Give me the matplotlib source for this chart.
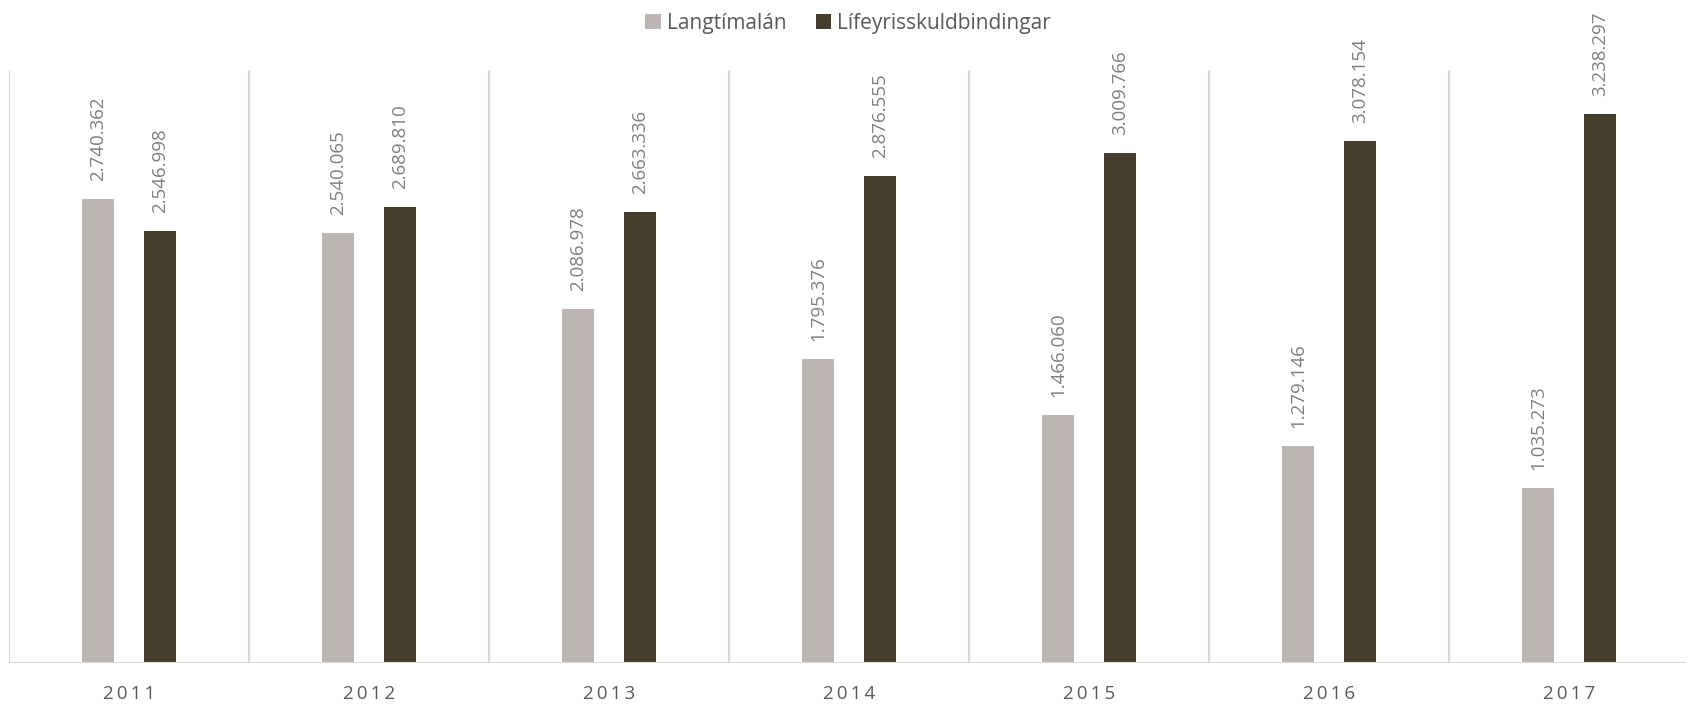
import numpy as np
import matplotlib.pyplot as plt

# ------------------------------
# DATA
# ------------------------------
years = ["2011", "2012", "2013", "2014", "2015", "2016", "2017"]
langtimalan = [2740362, 2540065, 2086978, 1795376, 1466060, 1279146, 1035273]
lifeyris = [2546998, 2689810, 2663336, 2876555, 3009766, 3078154, 3238297]

LIGHT = "#BDB4B4"
DARK = "#453D2B"
GRID = "#D9D9D9"
TEXT = "#595959"
LABEL = "#7F7F7F"

plt.rcParams['font.family'] = ['Open Sans', 'DejaVu Sans']


def fmt(v):
    # Icelandic thousands separator
    return f"{v:,}".replace(",", ".")


fig = plt.figure(figsize=(16.86, 7.05), dpi=100)
ax = fig.add_axes([9 / 1686, 42 / 705, 1680 / 1686, 593 / 705])

x = np.arange(len(years))
w = 0.133
off = 0.129

b1 = ax.bar(x - off, langtimalan, w, color=LIGHT, label="Langtímalán", zorder=3)
b2 = ax.bar(x + off, lifeyris, w, color=DARK, label="Lífeyrisskuldbindingar", zorder=3)

# value labels, rotated
for bars, vals in ((b1, langtimalan), (b2, lifeyris)):
    for rect, v in zip(bars, vals):
        ax.annotate(fmt(v), (rect.get_x() + rect.get_width() / 2, v),
                    xytext=(0, 13), textcoords="offset points",
                    rotation=90, ha="center", va="bottom",
                    fontsize=13.5, color=LABEL, annotation_clip=False)

ax.set_xlim(-0.5, len(years) - 0.5)
ax.set_ylim(0, 3500000)

# category separators
for b in np.arange(-0.5, len(years), 1.0):
    ax.axvline(b, color=GRID, lw=1.5, zorder=1)

for s in ax.spines.values():
    s.set_visible(False)
ax.axhline(0, color=GRID, lw=1.5, zorder=4)

ax.set_yticks([])
ax.set_xticks(x)
ax.set_xticklabels(["\u2009".join(y) for y in years], fontsize=13.5, color=TEXT)
ax.tick_params(axis="x", length=0, pad=16)

fig.legend(handles=[b1, b2], loc="upper center", bbox_to_anchor=(0.503, 1.008),
           ncol=2, frameon=False, fontsize=15, labelcolor=TEXT,
           handlelength=0.75, handleheight=0.75, handletextpad=0.3, columnspacing=1.4)

fig.savefig("out.png", dpi=100)
